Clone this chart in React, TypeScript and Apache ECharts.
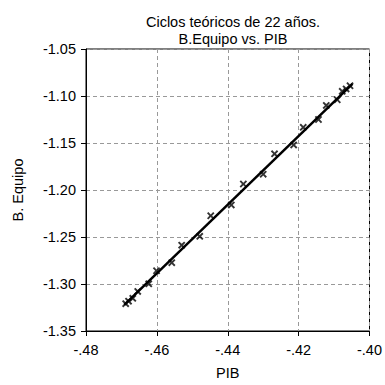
import React, { useEffect, useRef } from "react";
import * as echarts from "echarts";

const pibValues = [
  -0.4688, -0.468, -0.4668, -0.4654, -0.4623, -0.4601, -0.4558, -0.453, -0.4479, -0.4448, -0.439,
  -0.4356, -0.43, -0.4268, -0.4214, -0.4187, -0.4144, -0.4122, -0.4091, -0.4077, -0.4066, -0.4055,
];
const equipoValues = [
  -1.3209, -1.3183, -1.3152, -1.3079, -1.2998, -1.2859, -1.2773, -1.2587, -1.2493, -1.2274, -1.2159,
  -1.1936, -1.1832, -1.1615, -1.1521, -1.1333, -1.125, -1.11, -1.104, -1.095, -1.0925, -1.0891,
];
const fitLineX = [-0.4692, -0.4048];
const fitLineY = [-1.3222, -1.0872];

const titleLines = ["Ciclos teóricos de 22 años.", "B.Equipo vs. PIB"];
const xName = "PIB";
const yName = "B. Equipo";

const FONT = "Liberation Sans, Arial, sans-serif";
const FS = 14.5;
const crossPath =
  "path://M0,1.8L1.8,0L5,3.2L8.2,0L10,1.8L6.8,5L10,8.2L8.2,10L5,6.8L1.8,10L0,8.2L3.2,5Z";

export default function App() {
  const ref = useRef<HTMLDivElement>(null);
  useEffect(() => {
    if (!ref.current) return;
    const chart = echarts.init(ref.current, null, { renderer: "svg" });
    chart.setOption({
      animation: false,
      backgroundColor: "#ffffff",
      title: {
        text: titleLines.join("\n"),
        left: 228,
        textAlign: "center",
        top: 8,
        textStyle: {
          fontFamily: FONT,
          fontSize: FS,
          fontWeight: "normal",
          color: "#000",
          lineHeight: 17,
        },
      },
      grid: {
        left: 86,
        top: 49,
        width: 285.5,
        height: 287,
        show: true,
        borderColor: "#000",
        borderWidth: 1,
        backgroundColor: "transparent",
      },
      xAxis: {
        type: "value",
        min: -0.48,
        max: -0.4,
        interval: 0.02,
        name: xName,
        nameLocation: "middle",
        nameGap: 34,
        nameTextStyle: { fontFamily: FONT, fontSize: FS, color: "#000" },
        axisLine: { show: true, lineStyle: { color: "#000", width: 1 } },
        axisTick: { show: true, inside: false, length: 5, lineStyle: { color: "#000" } },
        axisLabel: {
          fontFamily: FONT,
          fontSize: FS,
          color: "#000",
          margin: 11,
          formatter: (v: number) => v.toFixed(2).replace("0.", "."),
        },
        splitLine: { show: true, lineStyle: { color: "#999", type: [4, 3], width: 1 } },
      },
      yAxis: {
        type: "value",
        min: -1.35,
        max: -1.05,
        interval: 0.05,
        name: yName,
        nameLocation: "middle",
        nameGap: 61,
        nameRotate: 90,
        nameTextStyle: { fontFamily: FONT, fontSize: FS, color: "#000" },
        axisLine: { show: true, lineStyle: { color: "#000", width: 1 } },
        axisTick: { show: true, inside: false, length: 5, lineStyle: { color: "#000" } },
        axisLabel: {
          fontFamily: FONT,
          fontSize: FS,
          color: "#000",
          margin: 10,
          formatter: (v: number) => v.toFixed(2),
        },
        splitLine: { show: true, lineStyle: { color: "#999", type: [4, 3], width: 1 } },
      },
      series: [
        {
          type: "line",
          data: fitLineX.map((x, i) => [x, fitLineY[i]]),
          showSymbol: false,
          symbol: "none",
          lineStyle: { color: "#000", width: 2.5 },
          z: 2,
        },
        {
          type: "scatter",
          data: pibValues.map((x, i) => [x, equipoValues[i]]),
          symbol: crossPath,
          symbolSize: 7.5,
          itemStyle: { color: "#000" },
          z: 3,
        },
      ],
    });
    return () => chart.dispose();
  }, []);
  return (
    <div
      ref={ref}
      style={{ position: "fixed", left: 0, top: 0, width: 385, height: 385 }}
    />
  );
}
